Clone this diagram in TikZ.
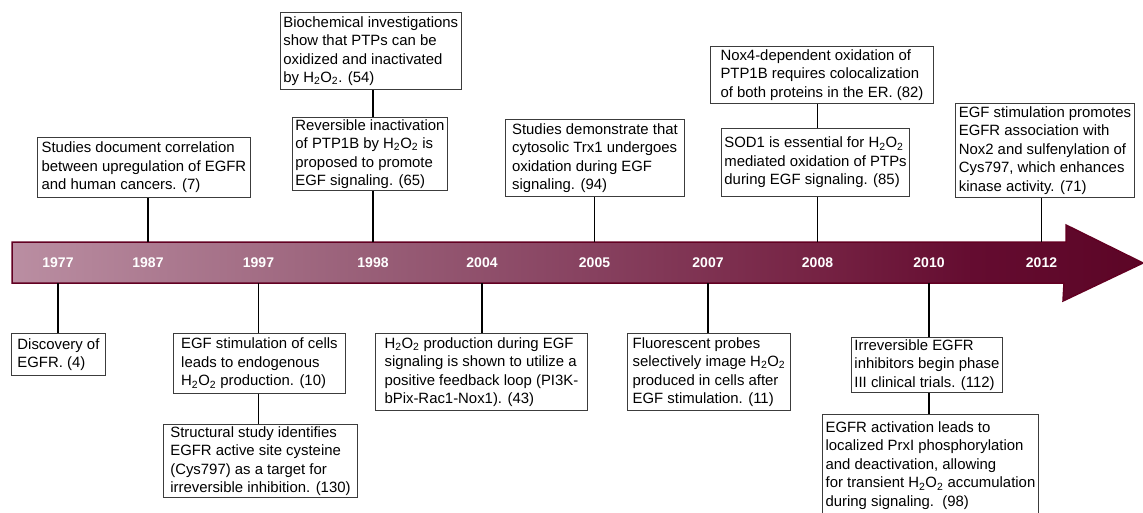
\documentclass[tikz,border=0pt]{standalone}
\usepackage{fontspec}
\setmainfont{Liberation Sans}
\newcommand\hoo{H\textsubscript{2}O\textsubscript{2}}
\definecolor{sA}{RGB}{186,142,162}
\definecolor{sB}{RGB}{152,94,119}
\definecolor{sC}{RGB}{136,67,97}
\definecolor{sD}{RGB}{118,35,68}
\definecolor{sE}{RGB}{100,12,48}
\definecolor{sF}{RGB}{92,5,38}
\definecolor{barborder}{RGB}{98,0,34}
\definecolor{boxborder}{RGB}{60,60,60}
\pgfdeclarehorizontalshading{barshade}{100bp}{color(0bp)=(sA); color(25bp)=(sA); color(41bp)=(sB); color(50bp)=(sC); color(60.5bp)=(sD); color(67.5bp)=(sE); color(75bp)=(sF); color(100bp)=(sF)}
\tikzset{
  evbox/.style={draw=boxborder, line width=0.9pt, fill=white, anchor=north west, align=left,
    inner xsep=3pt, inner ysep=2pt, font=\fontsize{14.9}{18.4}\selectfont},
  year/.style={text=white, font=\bfseries\fontsize{14}{16}\selectfont, inner sep=0pt},
  conn/.style={black, line width=1.9pt},
}
\begin{document}
\begin{tikzpicture}[x=1pt,y=-1pt]
\useasboundingbox (0,0) rectangle (1143,513);
% timeline arrow
\path[draw=barborder, line width=1.5pt, shading=barshade]
  (12,242) -- (1066,242) -- (1066,225) -- (1143,263) -- (1063,301) -- (1064,283) -- (12,283) -- cycle;
\coordinate (btop) at (0,242);
\coordinate (bbot) at (0,283);
% years
\node[year] (y1977) at (58,262.5) {1977};
\node[year] (y1987) at (148,262.5) {1987};
\node[year] (y1997) at (258.5,262.5) {1997};
\node[year] (y1998) at (373,262.5) {1998};
\node[year] (y2004) at (482,262.5) {2004};
\node[year] (y2005) at (594.5,262.5) {2005};
\node[year] (y2007) at (708,262.5) {2007};
\node[year] (y2008) at (817.5,262.5) {2008};
\node[year] (y2010) at (929,262.5) {2010};
\node[year] (y2012) at (1041.5,262.5) {2012};
% boxes
\node[evbox, minimum width=94, minimum height=42] (b1977) at (11,333) {Discovery of\\EGFR. (4)};
\node[evbox, minimum width=213, minimum height=60] (b1987) at (37,137) {Studies document correlation\\between upregulation of EGFR\\and human cancers. (7)};
\node[evbox, minimum width=172, minimum height=60] (b1997a) at (173,333) {EGF stimulation of cells\\leads to endogenous\\\hoo{} production. (10)};
\node[evbox, minimum width=194, minimum height=72] (b1997b) at (163,424) {Structural study identifies\\EGFR active site cysteine\\(Cys797) as a target for\\irreversible inhibition. (130)};
\node[evbox, minimum width=177, minimum height=77] (b1998a) at (280,12) {Biochemical investigations\\show that PTPs can be\\oxidized and inactivated\\by \hoo. (54)};
\node[evbox, minimum width=145, minimum height=64] (b1998b) at (292,117) {Reversible inactivation\\of PTP1B by \hoo{} is\\proposed to promote\\EGF signaling. (65)};
\node[evbox, minimum width=212, minimum height=77] (b2004) at (375,333) {\hoo{} production during EGF\\signaling is shown to utilize a\\positive feedback loop (PI3K-\\bPix-Rac1-Nox1). (43)};
\node[evbox, minimum width=179, minimum height=77] (b2005) at (505,119) {Studies demonstrate that\\cytosolic Trx1 undergoes\\oxidation during EGF\\signaling. (94)};
\node[evbox, minimum width=163, minimum height=77] (b2007) at (627,333) {Fluorescent probes\\selectively image \hoo\\produced in cells after\\EGF stimulation. (11)};
\node[evbox, minimum width=223, minimum height=57] (b2008a) at (710,46) {Nox4-dependent oxidation of\\PTP1B requires colocalization\\of both proteins in the ER. (82)};
\node[evbox, minimum width=178, minimum height=68] (b2008b) at (721,128) {SOD1 is essential for \hoo\\mediated oxidation of PTPs\\during EGF signaling. (85)};
\node[evbox, minimum width=149, minimum height=55] (b2010a) at (851,337) {Irreversible EGFR\\inhibitors begin phase\\III clinical trials. (112)};
\node[evbox, minimum width=216, minimum height=102] (b2010b) at (822,414) {EGFR activation leads to\\localized PrxI phosphorylation\\and deactivation, allowing\\for transient \hoo{} accumulation\\during signaling.\ \ (98)};
\node[evbox, minimum width=179, minimum height=94] (b2012) at (955,103) {EGF stimulation promotes\\EGFR association with\\Nox2 and sulfenylation of\\Cys797, which enhances\\kinase activity. (71)};
% connectors
\draw[conn] (y1977 |- bbot) -- (y1977 |- b1977.north);
\draw[conn] (y1987 |- btop) -- (y1987 |- b1987.south);
\draw[conn] (y1997 |- bbot) -- (y1997 |- b1997a.north);
\draw[conn] (y1997 |- b1997a.south) -- (y1997 |- b1997b.north);
\draw[conn] (y1998 |- btop) -- (y1998 |- b1998b.south);
\draw[conn] (y1998 |- b1998b.north) -- (y1998 |- b1998a.south);
\draw[conn] (y2004 |- bbot) -- (y2004 |- b2004.north);
\draw[conn] (y2005 |- btop) -- (y2005 |- b2005.south);
\draw[conn] (y2007 |- bbot) -- (y2007 |- b2007.north);
\draw[conn] (y2008 |- btop) -- (y2008 |- b2008b.south);
\draw[conn] (y2008 |- b2008b.north) -- (y2008 |- b2008a.south);
\draw[conn] (y2010 |- bbot) -- (y2010 |- b2010a.north);
\draw[conn] (y2010 |- b2010a.south) -- (y2010 |- b2010b.north);
\draw[conn] (y2012 |- btop) -- (y2012 |- b2012.south);
\end{tikzpicture}
\end{document}
